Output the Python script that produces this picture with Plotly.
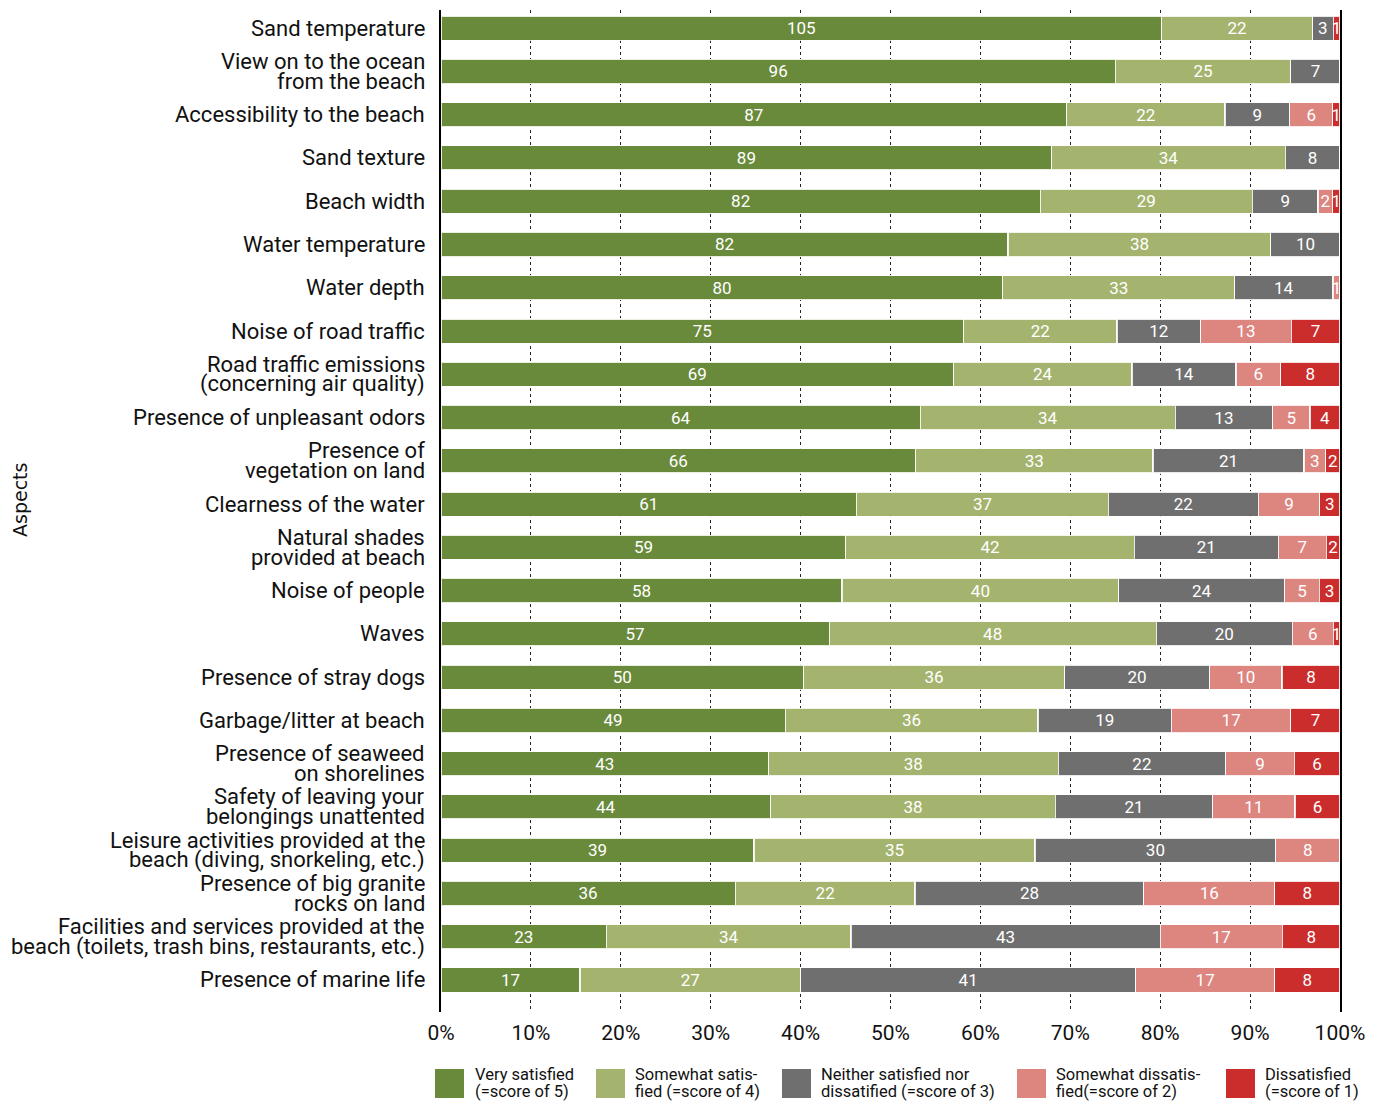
import plotly.graph_objects as go

# Survey aspects, listed top to bottom
aspects = [
    "Sand temperature",
    "View on to the ocean<br>from the beach",
    "Accessibility to the beach",
    "Sand texture",
    "Beach width",
    "Water temperature",
    "Water depth",
    "Noise of road traffic",
    "Road traffic emissions<br>(concerning air quality)",
    "Presence of unpleasant odors",
    "Presence of<br>vegetation on land",
    "Clearness of the water",
    "Natural shades<br>provided at beach",
    "Noise of people",
    "Waves",
    "Presence of stray dogs",
    "Garbage/litter at beach",
    "Presence of seaweed<br>on shorelines",
    "Safety of leaving your<br>belongings unattented",
    "Leisure activities provided at the<br>beach (diving, snorkeling, etc.)",
    "Presence of big granite<br>rocks on land",
    "Facilities and services provided at the<br>beach (toilets, trash bins, restaurants, etc.)",
    "Presence of marine life",
]

# Number of respondents per satisfaction score
very_satisfied = [105, 96, 87, 89, 82, 82, 80, 75, 69, 64, 66, 61, 59, 58, 57, 50, 49, 43, 44, 39, 36, 23, 17]
somewhat_satisfied = [22, 25, 22, 34, 29, 38, 33, 22, 24, 34, 33, 37, 42, 40, 48, 36, 36, 38, 38, 35, 22, 34, 27]
neutral = [3, 7, 9, 8, 9, 10, 14, 12, 14, 13, 21, 22, 21, 24, 20, 20, 19, 22, 21, 30, 28, 43, 41]
somewhat_dissatisfied = [0, 0, 6, 0, 2, 0, 1, 13, 6, 5, 3, 9, 7, 5, 6, 10, 17, 9, 11, 8, 16, 17, 17]
dissatisfied = [1, 0, 1, 0, 1, 0, 0, 7, 8, 4, 2, 3, 2, 3, 1, 8, 7, 6, 6, 0, 8, 8, 8]

series_names = [
    ["Very satisfied", "(=score of 5)"],
    ["Somewhat satis-", "fied (=score of 4)"],
    ["Neither satisfied nor", "dissatified (=score of 3)"],
    ["Somewhat dissatis-", "fied(=score of 2)"],
    ["Dissatisfied", "(=score of 1)"],
]
series_values = [very_satisfied, somewhat_satisfied, neutral, somewhat_dissatisfied, dissatisfied]
colors = ["#6a8a3b", "#a4b46e", "#6f6f6f", "#dd857f", "#cb2d2c"]

x_ticks = [0, 10, 20, 30, 40, 50, 60, 70, 80, 90, 100]
x_tick_labels = [f"{t}%" for t in x_ticks]

FONT = "Roboto"
W, H = 1386, 1102
ML, MR, MT, MB = 441, 46, 10, 90
PW, PH = W - ML - MR, H - MT - MB

totals = [sum(v[i] for v in series_values) for i in range(len(aspects))]
rows = list(range(len(aspects)))

fig = go.Figure()
for names, vals, col in zip(series_names, series_values, colors):
    pct = [v / t * 100 for v, t in zip(vals, totals)]
    fig.add_trace(go.Bar(
        y=rows, x=pct, orientation="h",
        name=" ".join(names),
        marker=dict(color=col, line=dict(color="rgba(255,255,255,0.85)", width=1.2)),
        width=0.56,
        text=[str(v) if v > 0 else "" for v in vals],
        textposition="inside", insidetextanchor="middle", textangle=0,
        textfont=dict(family=FONT, size=17, color="white"),
        hoverinfo="skip", showlegend=False,
    ))


def px_x(px):
    return (px - ML) / PW


def px_y(py):
    return (MT + PH - py) / PH


annotations = []
shapes = []

# Category labels, one annotation per line for tight leading
for i, label in enumerate(aspects):
    lines = label.split("<br>")
    n = len(lines)
    for k, line in enumerate(lines):
        off = (k - (n - 1) / 2) * 20
        annotations.append(dict(
            x=0, xref="paper", y=i, yref="y", xanchor="right", yanchor="middle",
            xshift=-14, yshift=-off, text=line, showarrow=False,
            font=dict(family=FONT, size=22, color="#111"),
        ))

# Axis title
annotations.append(dict(
    x=px_x(20), xref="paper", y=px_y(500), yref="paper", text="Aspects",
    textangle=-90, showarrow=False, xanchor="center", yanchor="middle",
    font=dict(family="DejaVu Sans", size=19, color="#111"),
))

# Legend drawn as swatches with two-line captions
swatch_x = [435, 596, 782, 1017, 1226]
text_x = [473, 633, 819, 1054, 1263]
for sx, tx, col, names in zip(swatch_x, text_x, colors, series_names):
    shapes.append(dict(
        type="rect", xref="paper", yref="paper",
        x0=px_x(sx), x1=px_x(sx + 29), y0=px_y(1098), y1=px_y(1069),
        fillcolor=col, line=dict(width=0),
    ))
    for k, line in enumerate(names):
        annotations.append(dict(
            x=px_x(tx), xref="paper", y=px_y(1074 + 17 * k), yref="paper",
            xanchor="left", yanchor="middle", text=line, showarrow=False,
            font=dict(family=FONT, size=16.5, color="#111"),
        ))

fig.update_layout(
    width=W, height=H,
    margin=dict(l=ML, r=MR, t=MT, b=MB),
    paper_bgcolor="white", plot_bgcolor="white",
    barmode="stack", bargap=0.44,
    uniformtext=dict(minsize=17, mode="show"),
    showlegend=False,
    annotations=annotations, shapes=shapes,
    font=dict(family=FONT, color="#111"),
)
fig.update_xaxes(
    range=[0, 100], tickvals=x_ticks, ticktext=x_tick_labels,
    tickfont=dict(family=FONT, size=21, color="#111"),
    showgrid=True, gridcolor="#222", griddash="dot", gridwidth=1.2,
    zeroline=False, showline=False, ticks="", ticklabelstandoff=6,
)
fig.update_yaxes(
    range=[22.74, -0.42], showticklabels=False, showgrid=False, zeroline=False,
    showline=True, mirror=True, linecolor="black", linewidth=2, ticks="",
)

fig.write_html("out.html")
